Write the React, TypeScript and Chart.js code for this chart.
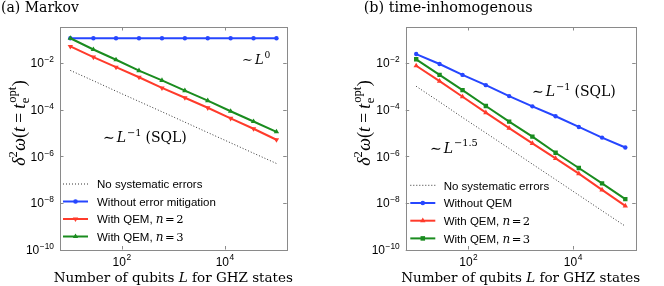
import React, { useEffect, useRef } from 'react';
import { Chart, registerables } from 'chart.js';

Chart.register(...registerables);

// ---------------- data ----------------
const L_VALUES = [10, 28, 77, 215, 600, 1670, 4640, 12900, 35900, 100000];

const X_TICKS = [100, 10000];
const Y_TICKS = [1e-10, 1e-8, 1e-6, 1e-4, 1e-2];

const X_MIN = 6.3;
const X_MAX = 158000;
const Y_MIN = 1e-10;
const Y_MAX = 0.35;

// (a) Markov
const markovNoSys = [4.8e-3, 1.73e-3, 6.2e-4, 2.24e-4, 8.1e-5, 2.9e-5, 1.04e-5, 3.76e-6, 1.35e-6, 4.9e-7];
const markovNoQEM = [0.115, 0.115, 0.115, 0.115, 0.115, 0.115, 0.115, 0.115, 0.115, 0.115];
const markovQEM2 = [0.0513, 0.0178, 0.0066, 0.00245, 0.00085, 0.000324, 0.00012, 4.2e-5, 1.51e-5, 5.1e-6];
const markovQEM3 = [0.115, 0.038, 0.0138, 0.0047, 0.0018, 0.00065, 0.000243, 8.5e-5, 3.1e-5, 1.12e-5];

// (b) time-inhomogenous
const inhomNoSys = [1.0e-3, 2.15e-4, 4.6e-5, 1.0e-5, 2.15e-6, 4.6e-7, 1.0e-7, 2.15e-8, 4.6e-9, 1.0e-9];
const inhomNoQEM = [0.0242, 0.00906, 0.00308, 0.00112, 0.00038, 0.000138, 5.2e-5, 1.81e-5, 6.3e-6, 2.37e-6];
const inhomQEM2 = [7.6e-3, 1.66e-3, 3.55e-4, 7.4e-5, 1.6e-5, 3.58e-6, 8.05e-7, 1.8e-7, 3.6e-8, 7.4e-9];
const inhomQEM3 = [0.0144, 0.00308, 6.85e-4, 1.43e-4, 3.05e-5, 6.98e-6, 1.41e-6, 3.14e-7, 6.9e-8, 1.44e-8];

// ---------------- styles ----------------
const SERIF = '"DejaVu Serif", serif';
const TIMES = '"Liberation Serif", serif';
const SANS = '"Liberation Sans", Arial, sans-serif';
const BLUE = '#2646ff';
const RED = '#ff3b2b';
const GREEN = '#1a8c1f';
const DOT = '#333333';

type Seg = { t: string; f: string; dy?: number; adv?: boolean; padL?: number; padR?: number };
type Marker = 'none' | 'circle' | 'triUp' | 'triDown' | 'square';

interface Series {
  name: string;
  label: Seg[];
  data: number[];
  color: string;
  width: number;
  dash?: number[];
  marker: Marker;
}

interface PanelSpec {
  title: Seg[];
  titleX: number;
  series: Series[];
  pad: { left: number; top: number; right: number; bottom: number };
  legendLine: [number, number];
  legendTextX: number;
  legendRows: number[];
  annotations: { segs: Seg[]; x: number; y: number }[];
  yLabelX: number;
}

const f = (size: number, style = '', fam = SERIF) => `${style} ${size}px ${fam}`.trim();

function segsWidth(ctx: CanvasRenderingContext2D, segs: Seg[]) {
  let w = 0;
  for (const s of segs) {
    ctx.font = s.f;
    const m = ctx.measureText(s.t).width;
    w += (s.padL || 0) + (s.adv === false ? 0 : m) + (s.padR || 0);
  }
  return w;
}

function drawSegs(ctx: CanvasRenderingContext2D, segs: Seg[], x: number, y: number, align: 'left' | 'right' | 'center') {
  const w = segsWidth(ctx, segs);
  let cx = align === 'left' ? x : align === 'right' ? x - w : x - w / 2;
  ctx.textAlign = 'left';
  ctx.textBaseline = 'alphabetic';
  for (const s of segs) {
    ctx.font = s.f;
    cx += s.padL || 0;
    ctx.fillText(s.t, cx, y + (s.dy || 0));
    if (s.adv !== false) cx += ctx.measureText(s.t).width;
    cx += s.padR || 0;
  }
}

function drawMarker(ctx: CanvasRenderingContext2D, m: Marker, x: number, y: number, color: string) {
  if (m === 'none') return;
  ctx.save();
  ctx.fillStyle = color;
  ctx.beginPath();
  if (m === 'circle') {
    ctx.arc(x, y, 2.3, 0, Math.PI * 2);
  } else if (m === 'square') {
    const s = 3.2 * Math.SQRT1_2;
    ctx.rect(x - s, y - s, 2 * s, 2 * s);
  } else {
    const r = 3.1;
    const d = m === 'triUp' ? 1 : -1;
    ctx.moveTo(x, y - d * r);
    ctx.lineTo(x + 0.866 * r, y + d * 0.5 * r);
    ctx.lineTo(x - 0.866 * r, y + d * 0.5 * r);
    ctx.closePath();
  }
  ctx.fill();
  ctx.restore();
}

function pow10Label(v: number, size: number): Seg[] {
  const e = Math.round(Math.log10(v));
  const exp = e < 0 ? '\u2212' + String(-e) : String(e);
  return [
    { t: '10', f: f(size, '', SANS) },
    { t: exp, f: f(size * 0.7, '', SANS), dy: -size * 0.42, padL: 0.5 },
  ];
}

const mathN = (n: string): Seg[] => [
  { t: 'n', f: f(12, 'italic') },
  { t: '=', f: f(11.5), padL: 1.5, padR: 1.5 },
  { t: n, f: f(11.5) },
];

const YL = 18;
const yLabelSegs: Seg[] = [
  { t: '\u03b4', f: f(YL, 'italic', TIMES) },
  { t: '2', f: f(YL * 0.7, '', TIMES), dy: -8 },
  { t: '\u03c9', f: f(YL, 'italic', TIMES), padL: 0.5 },
  { t: '(', f: f(YL, '', TIMES) },
  { t: 't', f: f(YL, 'italic', TIMES) },
  { t: '=', f: f(YL, '', TIMES), padL: 4, padR: 4 },
  { t: 't', f: f(YL, 'italic', TIMES) },
  { t: 'e', f: f(YL * 0.7, '', TIMES), dy: 4, adv: false, padL: 0.5 },
  { t: 'opt', f: f(YL * 0.7, '', TIMES), dy: -8.5, padL: 0.5 },
  { t: ')', f: f(YL, '', TIMES), padL: 0.5 },
];

const xTitleSegs: Seg[] = [
  { t: 'Number of qubits ', f: f(13.5) },
  { t: 'L', f: f(13.5, 'italic') },
  { t: ' for GHZ states', f: f(13.5) },
];

const sim = (exp: string, tail?: string, size = 14): Seg[] => {
  const segs: Seg[] = [
    { t: '\u223c', f: f(size), padR: 2 },
    { t: 'L', f: f(size, 'italic') },
    { t: exp, f: f(size * 0.7), dy: -size * 0.45, padL: 1 },
  ];
  if (tail) segs.push({ t: tail, f: f(size), padL: 4 });
  return segs;
};

const leftSpec: PanelSpec = {
  title: [{ t: '(a) Markov', f: f(14) }],
  titleX: 1,
  series: [
    { name: 'No systematic errors', label: [{ t: 'No systematic errors', f: f(11.5, '', SANS) }], data: markovNoSys, color: DOT, width: 1, dash: [1, 2], marker: 'none' },
    { name: 'Without error mitigation', label: [{ t: 'Without error mitigation', f: f(11.5, '', SANS) }], data: markovNoQEM, color: BLUE, width: 2, marker: 'circle' },
    { name: 'With QEM, n=2', label: [{ t: 'With QEM, ', f: f(11.5, '', SANS) }, ...mathN('2')], data: markovQEM2, color: RED, width: 2, marker: 'triDown' },
    { name: 'With QEM, n=3', label: [{ t: 'With QEM, ', f: f(11.5, '', SANS) }, ...mathN('3')], data: markovQEM3, color: GREEN, width: 2, marker: 'triUp' },
  ],
  pad: { left: 60, top: 27, right: 45.3, bottom: 36.5 },
  legendLine: [63, 88],
  legendTextX: 97,
  legendRows: [184, 201.5, 219, 236.5],
  annotations: [
    { segs: sim('0', undefined, 13), x: 242, y: 63.5 },
    { segs: sim('\u22121', '(SQL)'), x: 103, y: 142 },
  ],
  yLabelX: 24.5,
};

const rightSpec: PanelSpec = {
  title: [{ t: '(b) time-inhomogenous', f: f(14.4) }],
  titleX: 31.7,
  series: [
    { name: 'No systematic errors', label: [{ t: 'No systematic errors', f: f(11.5, '', SANS) }], data: inhomNoSys, color: DOT, width: 1, dash: [1, 2], marker: 'none' },
    { name: 'Without QEM', label: [{ t: 'Without QEM', f: f(11.5, '', SANS) }], data: inhomNoQEM, color: BLUE, width: 2, marker: 'circle' },
    { name: 'With QEM, n=2', label: [{ t: 'With QEM, ', f: f(11.5, '', SANS) }, ...mathN('2')], data: inhomQEM2, color: RED, width: 2, marker: 'triUp' },
    { name: 'With QEM, n=3', label: [{ t: 'With QEM, ', f: f(11.5, '', SANS) }, ...mathN('3')], data: inhomQEM3, color: GREEN, width: 2, marker: 'square' },
  ],
  pad: { left: 73.7, top: 27, right: 28.3, bottom: 36.5 },
  legendLine: [78.3, 103.3],
  legendTextX: 111.7,
  legendRows: [185.3, 203, 220.7, 238.4],
  annotations: [
    { segs: sim('\u22121', '(SQL)'), x: 200, y: 96 },
    { segs: sim('\u22121.5'), x: 98, y: 152.5 },
  ],
  yLabelX: 37.5,
};

function Panel({ spec, left }: { spec: PanelSpec; left: number }) {
  const ref = useRef<HTMLCanvasElement>(null);
  useEffect(() => {
    const canvas = ref.current!;
    const decor = {
      id: 'decor',
      afterDatasetsDraw(chart: any) {
        const ctx: CanvasRenderingContext2D = chart.ctx;
        const a = chart.chartArea;
        const xs = chart.scales.x;
        const ys = chart.scales.y;
        ctx.save();
        ctx.strokeStyle = '#8a8a8a';
        ctx.lineWidth = 1;
        ctx.strokeRect(Math.round(a.left) + 0.5, Math.round(a.top) + 0.5, Math.round(a.right - a.left), Math.round(a.bottom - a.top));
        const tl = 3.5;
        ctx.beginPath();
        for (const v of X_TICKS) {
          const px = Math.round(xs.getPixelForValue(v)) + 0.5;
          ctx.moveTo(px, a.bottom); ctx.lineTo(px, a.bottom - tl);
          ctx.moveTo(px, a.top); ctx.lineTo(px, a.top + tl);
        }
        for (const v of Y_TICKS) {
          const py = Math.round(ys.getPixelForValue(v)) + 0.5;
          ctx.moveTo(a.left, py); ctx.lineTo(a.left + tl, py);
          ctx.moveTo(a.right, py); ctx.lineTo(a.right - tl, py);
        }
        ctx.stroke();
        ctx.restore();
      },
      afterDraw(chart: any) {
        const ctx: CanvasRenderingContext2D = chart.ctx;
        const a = chart.chartArea;
        const xs = chart.scales.x;
        const ys = chart.scales.y;
        ctx.save();
        ctx.fillStyle = '#000';
        for (const v of X_TICKS) {
          drawSegs(ctx, pow10Label(v, 12), xs.getPixelForValue(v), a.bottom + 16, 'center');
        }
        for (const v of Y_TICKS) {
          drawSegs(ctx, pow10Label(v, 12), a.left - 6, ys.getPixelForValue(v) + 4.3, 'right');
        }
        drawSegs(ctx, xTitleSegs, (a.left + a.right) / 2, 281.5, 'center');
        ctx.save();
        ctx.translate(spec.yLabelX, 123);
        ctx.rotate(-Math.PI / 2);
        drawSegs(ctx, yLabelSegs, 0, 0, 'center');
        ctx.restore();
        drawSegs(ctx, spec.title, spec.titleX, 12, 'left');
        for (const an of spec.annotations) drawSegs(ctx, an.segs, an.x, an.y, 'left');
        spec.series.forEach((s, i) => {
          const ry = spec.legendRows[i];
          const [x0, x1] = spec.legendLine;
          ctx.save();
          ctx.strokeStyle = s.color;
          ctx.lineWidth = s.width;
          ctx.setLineDash(s.dash || []);
          ctx.beginPath();
          ctx.moveTo(x0, ry);
          ctx.lineTo(x1, ry);
          ctx.stroke();
          ctx.restore();
          drawMarker(ctx, s.marker, (x0 + x1) / 2, ry, s.color);
          ctx.fillStyle = '#000';
          drawSegs(ctx, s.label, spec.legendTextX, ry + 4.2, 'left');
        });
        ctx.restore();
      },
    };

    const n = spec.series.length;
    const chart = new Chart(canvas, {
      type: 'line',
      data: {
        datasets: spec.series.map((s, i) => ({
          label: s.name,
          data: L_VALUES.map((x, j) => ({ x, y: s.data[j] })),
          borderColor: s.color,
          backgroundColor: s.color,
          borderWidth: s.width,
          borderDash: s.dash || [],
          pointStyle: s.marker === 'circle' ? 'circle' : s.marker === 'square' ? 'rect' : 'triangle',
          pointRotation: s.marker === 'triDown' ? 180 : 0,
          pointRadius: s.marker === 'none' ? 0 : s.marker === 'circle' ? 2.2 : 3.1,
          pointBorderWidth: 0,
          pointHoverRadius: 0,
          fill: false,
          tension: 0,
          order: n - i,
        })),
      },
      options: {
        responsive: false,
        animation: false,
        events: [],
        layout: { padding: spec.pad },
        plugins: {
          legend: { display: false },
          tooltip: { enabled: false },
          title: { display: false },
        },
        scales: {
          x: { type: 'logarithmic', min: X_MIN, max: X_MAX, display: false },
          y: { type: 'logarithmic', min: Y_MIN, max: Y_MAX, display: false },
        },
      } as any,
      plugins: [decor],
    });
    return () => chart.destroy();
  }, [spec]);
  return (
    <canvas
      ref={ref}
      width={332}
      height={286}
      style={{ position: 'absolute', left, top: 0, width: 332, height: 286 }}
    />
  );
}

export default function App() {
  return (
    <div style={{ position: 'absolute', left: 0, top: 0, width: 664, height: 286, background: '#fff' }}>
      <Panel spec={leftSpec} left={0} />
      <Panel spec={rightSpec} left={332} />
    </div>
  );
}
